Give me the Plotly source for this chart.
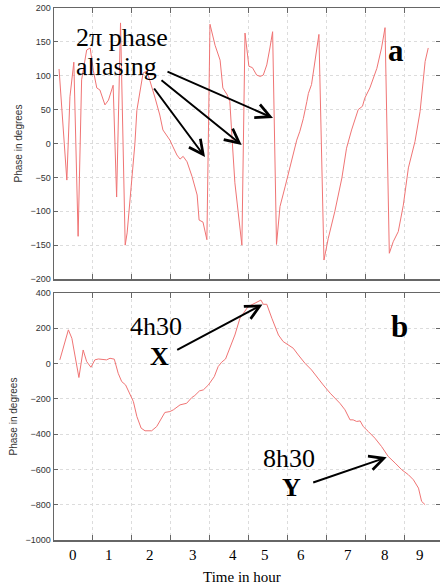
import plotly.graph_objects as go
from plotly.subplots import make_subplots

# ---- data (x in axis units: one unit per grid interval) ----
wrapped_t = [0.13, 0.33, 0.41, 0.51, 0.62, 0.71, 0.84, 0.93, 1.01, 1.10, 1.18, 1.31, 1.40, 1.52,
             1.61, 1.71, 1.83, 1.88, 2.08, 2.13, 2.29, 2.39, 2.60, 2.72, 2.80, 2.90, 2.98, 3.06,
             3.16, 3.24, 3.32, 3.42, 3.55, 3.68, 3.73, 3.83, 3.93, 4.01, 4.14, 4.27, 4.34, 4.45,
             4.52, 4.58, 4.65, 4.83, 4.91, 5.01, 5.10, 5.21, 5.30, 5.38, 5.47, 5.55, 5.62, 5.72,
             5.81, 5.94, 6.11, 6.24, 6.32, 6.41, 6.50, 6.54, 6.62, 6.71, 6.81, 6.94, 7.05, 7.22,
             7.40, 7.52, 7.65, 7.82, 7.93, 7.99, 8.12, 8.30, 8.42, 8.51, 8.62, 8.72, 8.85, 8.98,
             9.11, 9.28, 9.41, 9.49, 9.54, 9.62]
wrapped_phase = [110, -54, 69, 120, -137, 94, 138, 141, 108, 82, 79, 57, 64, 86,
                 -79, 178, -150, -132, 0, 49, 104, 107, 67, 42, 20, 12, 5, -5,
                 -17, -23, -19, -27, -49, -76, -113, -116, -142, 176, 145, 123, 82, 72,
                 62, 5, -58, -150, 163, 114, 112, 101, 99, 101, 116, 141, 165, -149,
                 -93, -64, -27, 5, 18, 37, 62, 74, 87, 126, 161, -172, -140, -100,
                 -51, -7, 20, 50, 55, 67, 82, 111, 141, 171, -162, -145, -130, -91,
                 -36, 3, 47, 92, 121, 141]

unwrapped_t = [0.15, 0.37, 0.46, 0.64, 0.75, 0.84, 0.95, 1.05, 1.14, 1.27, 1.35, 1.44, 1.55, 1.65,
               1.74, 1.84, 2.04, 2.13, 2.24, 2.34, 2.51, 2.64, 2.77, 2.85, 2.98, 3.07, 3.24, 3.41,
               3.54, 3.62, 3.74, 3.84, 3.97, 4.12, 4.22, 4.31, 4.41, 4.48, 4.65, 4.78, 4.91, 4.99,
               5.19, 5.32, 5.38, 5.47, 5.60, 5.77, 5.89, 6.02, 6.15, 6.28, 6.45, 6.62, 6.75, 6.92,
               7.10, 7.22, 7.35, 7.48, 7.61, 7.69, 7.78, 7.87, 7.95, 8.08, 8.25, 8.42, 8.59, 8.77,
               8.94, 9.11, 9.24, 9.37, 9.45, 9.54]
unwrapped_phase = [21, 191, 143, -79, 77, 11, -21, 21, 26, 21, 21, 30, 25, -55,
                   -102, -121, -215, -300, -366, -381, -381, -357, -309, -277, -272, -262, -234, -225,
                   -193, -181, -155, -149, -121, -74, -17, 8, 26, 68, 162, 257, 295, 323,
                   345, 360, 336, 336, 257, 162, 125, 106, 87, 49, 2, -36, -74, -121,
                   -168, -196, -225, -262, -319, -319, -328, -325, -357, -385, -423, -470, -526, -564,
                   -602, -630, -659, -706, -781, -800]

hour_labels = ["0", "1", "2", "3", "4", "5", "6", "7", "8", "9"]
hour_label_pos = [0.50, 1.42, 2.47, 3.57, 4.61, 5.42, 6.35, 7.57, 8.51, 9.41]

top_yticks = [-200, -150, -100, -50, 0, 50, 100, 150, 200]
bot_yticks = [-1000, -800, -600, -400, -200, 0, 200, 400]

# ---- layout geometry ----
W, H = 440, 588
ML, MR, MT, MB = 54, 0, 8, 48
PW, PH = W - ML - MR, H - MT - MB


def pxx(x):
    return (x - ML) / PW


def pxy(y):
    return (H - MB - y) / PH


fig = make_subplots(rows=2, cols=1, shared_xaxes=False, vertical_spacing=0.03)

line_style = dict(color="#f07474", width=1)
fig.add_trace(go.Scatter(x=wrapped_t, y=wrapped_phase, mode="lines", line=line_style,
                         showlegend=False), row=1, col=1)
fig.add_trace(go.Scatter(x=unwrapped_t, y=unwrapped_phase, mode="lines", line=line_style,
                         showlegend=False), row=2, col=1)

axis_col = "#666666"
grid_col = "#dcdcdc"
tick_font = dict(family="Liberation Sans, Arial", size=9, color="#333333")
title_font = dict(family="Liberation Sans, Arial", size=10, color="#333333")
xrange = [0, PW / 38.9]

common_x = dict(range=xrange, dtick=1, tick0=0, ticks="inside", ticklen=5, tickcolor=axis_col,
                showline=True, linecolor=axis_col, linewidth=1.5, mirror="allticks",
                showgrid=True, gridcolor=grid_col, griddash="dot", gridwidth=1,
                showticklabels=False, zeroline=False)
fig.update_xaxes(**common_x)

common_y = dict(ticks="inside", ticklen=4, tickcolor=axis_col, showline=True, linecolor=axis_col,
                linewidth=1.5, mirror="ticks", showgrid=True, gridcolor=grid_col, griddash="dot",
                gridwidth=1, zeroline=False, tickfont=tick_font, automargin=False,
                ticklabeloverflow="allow",
                title=dict(text="Phase in degrees", font=title_font, standoff=6))
fig.update_yaxes(**common_y)
fig.update_yaxes(range=[-200, 200], tickvals=top_yticks, row=1, col=1)
fig.update_yaxes(range=[-1000, 400], tickvals=bot_yticks, row=2, col=1)

fig.update_layout(
    xaxis=dict(domain=[0, 1]),
    yaxis=dict(domain=[pxy(279), 1]),
    xaxis2=dict(domain=[0, 1]),
    yaxis2=dict(domain=[0, pxy(293)]),
)

serif = "Liberation Serif, Times New Roman, serif"
ann = []


def text(x, y, s, size, bold=False, xanchor="center"):
    ann.append(dict(x=pxx(x), y=pxy(y), xref="paper", yref="paper", text=("<b>%s</b>" % s) if bold else s,
                    showarrow=False, xanchor=xanchor, yanchor="middle",
                    font=dict(family=serif, size=size, color="black")))


def arrow(hx, hy, tx, ty):
    ann.append(dict(x=pxx(hx), y=pxy(hy), xref="paper", yref="paper", ax=tx - hx, ay=ty - hy,
                    text="", showarrow=True, arrowhead=5, arrowsize=1.4, arrowwidth=2,
                    arrowcolor="black", standoff=0))


# panel a
text(74, 38, "2π phase", 26, xanchor="left")
text(74, 66, "aliasing", 26, xanchor="left")
arrow(273, 118, 166, 71)
arrow(241.7, 145, 160, 79)
arrow(205, 157, 153, 87)
text(396, 50, "a", 31, bold=True)

# panel b
text(155.5, 326, "4h30", 26)
text(159, 356, "X", 26, bold=True)
arrow(262.5, 304.5, 175.7, 350.7)
text(288.5, 458, "8h30", 26)
text(291, 487, "Y", 26, bold=True)
arrow(386.7, 457.3, 311.7, 483)
text(399, 326, "b", 31, bold=True)

# hour labels and x title
for pos, lab in zip(hour_label_pos, hour_labels):
    ann.append(dict(x=pos, y=pxy(555), xref="x2", yref="paper", text=lab, showarrow=False,
                    xanchor="center", yanchor="middle",
                    font=dict(family=serif, size=15, color="black")))
text(242, 577, "Time in hour", 15)

fig.update_layout(
    width=W, height=H,
    margin=dict(l=ML, r=MR, t=MT, b=MB),
    paper_bgcolor="white", plot_bgcolor="white",
    annotations=ann,
    hovermode=False,
)

fig.write_html("out.html", config={"displayModeBar": False, "staticPlot": True},
               post_script="document.body.style.margin='0px';")
